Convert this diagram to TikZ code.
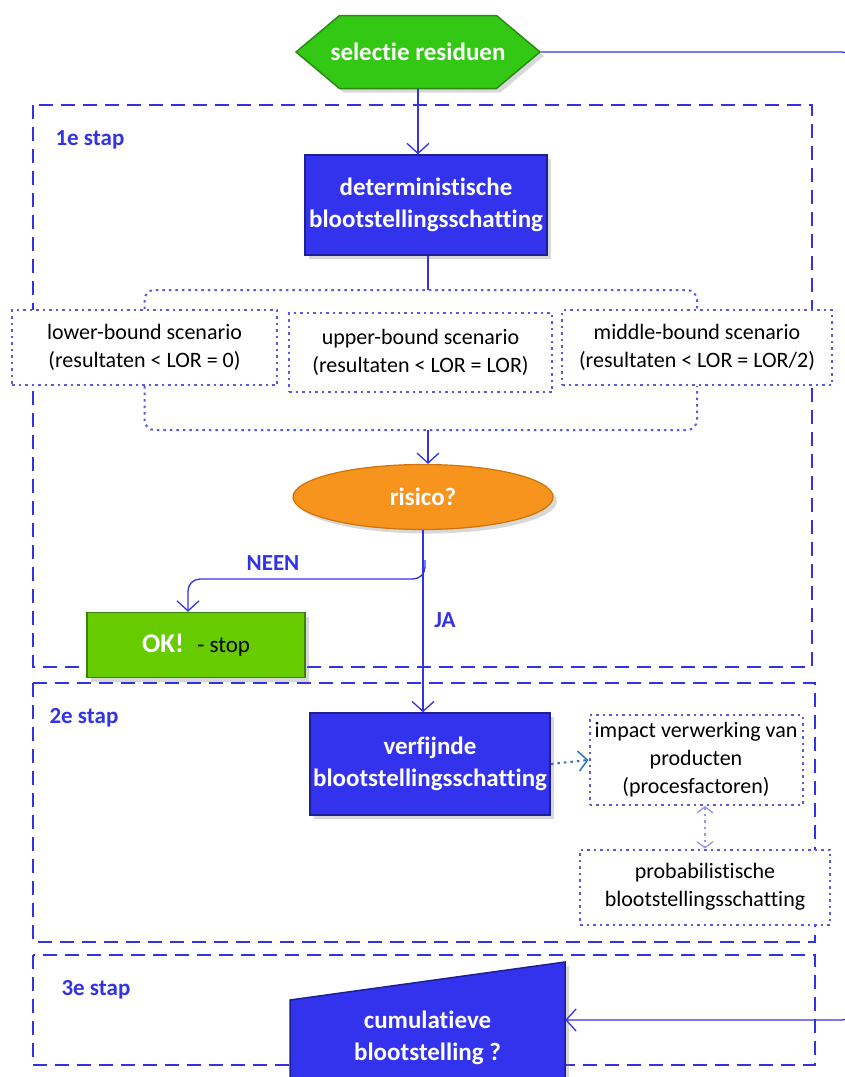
\documentclass[tikz,border=0pt]{standalone}
\usepackage{fontspec}
\setmainfont{Carlito}[Ligatures=NoCommon]
\usetikzlibrary{arrows.meta,shapes.geometric,shapes.symbols,shadows}
\definecolor{FlowClr}{RGB}{51,51,230}
\definecolor{BoxClr}{RGB}{51,51,238}
\definecolor{BoxEdge}{RGB}{30,30,150}
\definecolor{StartClr}{RGB}{51,200,20}
\definecolor{StartEdge}{RGB}{40,140,20}
\definecolor{RiskClr}{RGB}{247,148,29}
\definecolor{RiskEdge}{RGB}{205,115,10}
\definecolor{OkClr}{RGB}{102,204,0}
\definecolor{OkEdge}{RGB}{60,130,10}
\definecolor{DotClr}{RGB}{90,90,220}
\definecolor{LinkClr}{RGB}{46,117,182}
\definecolor{PairClr}{RGB}{150,150,230}

\tikzset{
  bigtxt/.style={font=\fontsize{25}{32}\selectfont\bfseries,text=white,align=center},
  smalltxt/.style={font=\fontsize{22}{28}\selectfont,align=center},
  bluebox/.style={bigtxt,draw=BoxEdge,line width=1.5pt,fill=BoxClr,
    drop shadow={shadow xshift=4pt,shadow yshift=-4pt,opacity=.3}},
  dotline/.style={line width=2pt,dash pattern=on 2.5pt off 4pt},
  scenbox/.style={smalltxt,draw=DotClr,dotline,fill=white},
  stapframe/.style={draw=FlowClr,line width=1.8pt,dash pattern=on 14pt off 8pt},
  staplabel/.style={font=\fontsize{23}{26}\selectfont\bfseries,text=FlowClr},
  flow/.style={draw=FlowClr,line width=1.3pt},
  flowarr/.style={flow,-{Straight Barb[length=10pt,width=22pt,line width=1.3pt]}},
}

\begin{document}
\begin{tikzpicture}[x=1pt,y=-1pt]
\clip (0,0) rectangle (845,1077);
\fill[white] (0,0) rectangle (845,1077);

% frames of the three steps
\draw[stapframe] (33,105) rectangle (812,667);
\draw[stapframe] (33,683) rectangle (815,942);
\draw[stapframe] (33,955) rectangle (815,1065);
\node[staplabel,anchor=west] (s1) at (52,140) {1e stap};
\node[staplabel,anchor=west] (s2) at (46,718) {2e stap};
\node[staplabel,anchor=west] (s3) at (58,990) {3e stap};

\node[signal,signal to=west and east,signal pointer angle=80,bigtxt,
  minimum width=243,minimum height=73,inner xsep=-9pt,inner ysep=0pt,
  draw=StartEdge,line width=1.5pt,fill=StartClr,
  drop shadow={shadow xshift=4pt,shadow yshift=-4pt,opacity=.3}]
  (sel) at (418,52) {selectie residuen};

\node[bluebox,minimum width=242,minimum height=100] (det) at (426,205)
  {deterministische\\blootstellingsschatting};

\node[scenbox,minimum width=265,minimum height=75] (lb) at (144.5,347.5)
  {lower-bound scenario\\(resultaten < LOR = 0)};
\node[scenbox,minimum width=263,minimum height=79] (ub) at (420.5,352.5)
  {upper-bound scenario\\(resultaten < LOR = LOR)};
\node[scenbox,minimum width=270,minimum height=75] (mb) at (697,347.5)
  {middle-bound scenario\\(resultaten < LOR = LOR/2)};

\node[ellipse,bigtxt,minimum width=260,minimum height=65,inner sep=0pt,
  draw=RiskEdge,line width=1.2pt,fill=RiskClr,
  drop shadow={shadow xshift=4pt,shadow yshift=-4pt,opacity=.3}]
  (risk) at (423,497) {risico?};

\node[draw=OkEdge,line width=1.5pt,fill=OkClr,minimum width=218,minimum height=65,
  drop shadow={shadow xshift=4pt,shadow yshift=-4pt,opacity=.3}]
  (ok) at (196,645) {\fontsize{27}{30}\selectfont\bfseries\color{white}OK!\enspace
  \mdseries\fontsize{23}{30}\selectfont\color{black}- stop};

\node[bluebox,minimum width=235,minimum height=102] (ver) at (430,764)
  {verfijnde\\blootstellingsschatting};

\node[scenbox,minimum width=213,minimum height=90] (imp) at (696,760)
  {impact verwerking van\\producten\\(procesfactoren)};
\node[scenbox,minimum width=250,minimum height=75] (prob) at (705,887)
  {probabilistische\\blootstellingsschatting};

\fill[BoxClr,draw=BoxEdge,line width=1.5pt,
  drop shadow={shadow xshift=4pt,shadow yshift=-4pt,opacity=.3}]
  (290,1000) -- (565,962) -- (565,1095) -- (290,1095) -- cycle;
\node[bigtxt,minimum width=275,minimum height=60] (cum) at (427.5,1038)
  {cumulatieve\\blootstelling ?};

\node[staplabel] (neen) at (273,563) {NEEN};
\node[staplabel] (ja) at (445,620) {JA};

% connectors
\coordinate (tb) at (428,290);
\coordinate (bb) at (428,430);
\coordinate (nj) at (425,560);
\coordinate (rt) at (850,52);
\coordinate (cin) at ([yshift=18pt]cum.east);

\draw[flowarr] (sel.south) -- (sel.south |- det.north);
\draw[flow] (det.south -| tb) -- (tb);
\draw[dotline,draw=DotClr,rounded corners=10]
  (lb.north) |- (tb) -| (mb.north);
\draw[dotline,draw=DotClr,rounded corners=10]
  (lb.south) |- (bb) -| (mb.south);
\draw[flowarr] (bb) -- (bb |- risk.north);
\draw[flowarr] (risk.south) -- (risk.south |- ver.north);
\draw[flowarr,rounded corners=12] (nj) -- (425,579) -| ([xshift=-8pt]ok.north);
\draw[dotline,draw=LinkClr,-{Straight Barb[length=9pt,width=20pt,line width=1.5pt]}]
  (ver.east) -- (imp.west);
\draw[dotline,draw=PairClr,
  {Straight Barb[length=6pt,width=16pt,line width=1.3pt]}-{Straight Barb[length=6pt,width=16pt,line width=1.3pt]}]
  (prob.north |- imp.south) -- (prob.north);
\draw[flowarr,rounded corners=8] (sel.east) -- (rt) -- (rt |- cin) -- (cin);
\end{tikzpicture}
\end{document}
